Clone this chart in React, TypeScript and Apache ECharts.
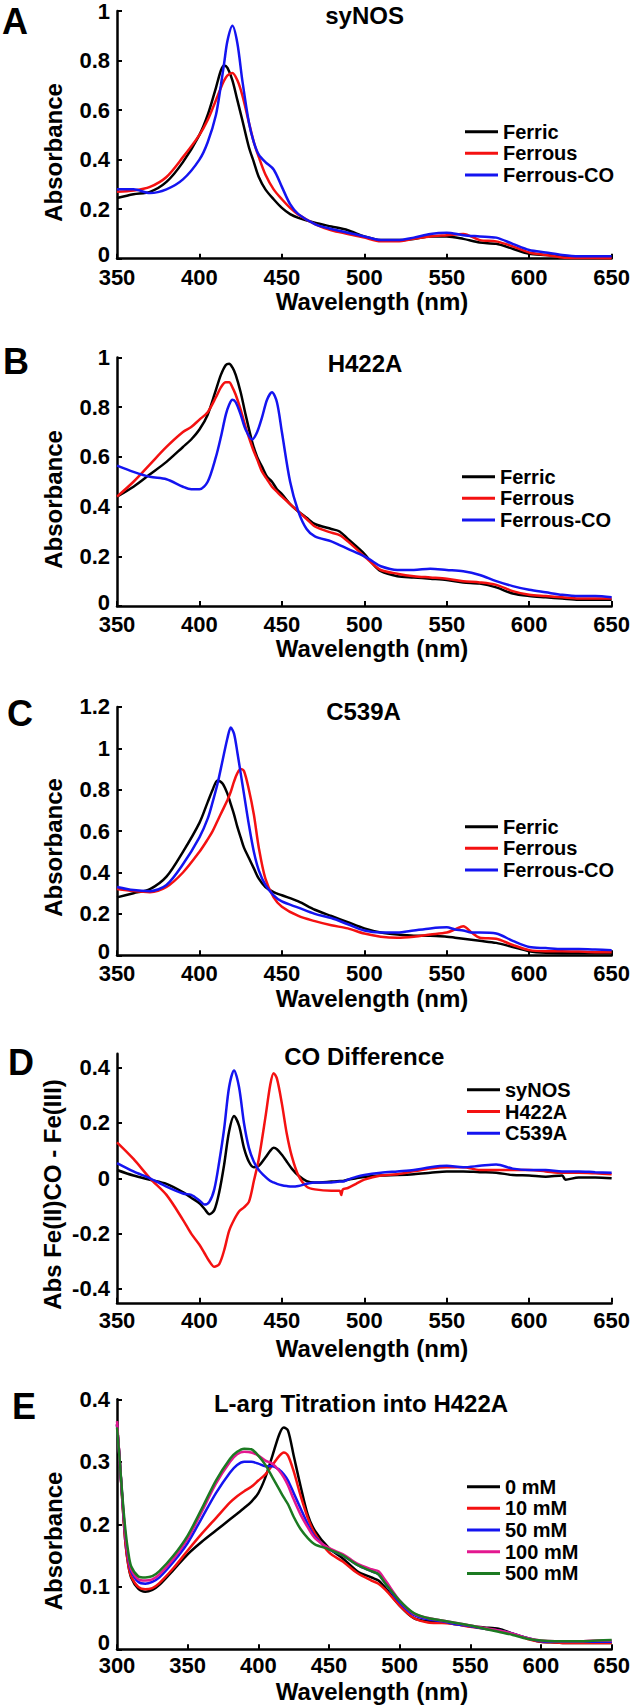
import React, { useEffect, useRef } from "react";
import * as echarts from "echarts";

const FONT = '"Liberation Sans", Arial, Helvetica, sans-serif';

// ---------- Panel A: syNOS ----------
const wlA = [350, 360, 370, 380, 390, 400, 405, 410, 413, 415, 417, 420, 423, 426, 430, 433, 436, 440, 445, 450, 455, 460, 470, 480, 490, 500, 510, 520, 530, 540, 550, 560, 570, 580, 590, 600, 610, 620, 630, 650];
const ferricA = [0.245, 0.26, 0.27, 0.31, 0.39, 0.5, 0.58, 0.69, 0.76, 0.78, 0.77, 0.72, 0.64, 0.56, 0.45, 0.39, 0.33, 0.28, 0.24, 0.205, 0.18, 0.165, 0.145, 0.13, 0.115, 0.09, 0.075, 0.075, 0.08, 0.09, 0.09, 0.08, 0.065, 0.06, 0.04, 0.02, 0.015, 0.01, 0.006, 0.005];
const ferrousA = [0.27, 0.275, 0.29, 0.33, 0.41, 0.5, 0.56, 0.64, 0.69, 0.72, 0.74, 0.75, 0.72, 0.66, 0.55, 0.47, 0.41, 0.34, 0.28, 0.24, 0.205, 0.178, 0.14, 0.115, 0.1, 0.085, 0.07, 0.07, 0.08, 0.09, 0.095, 0.1, 0.075, 0.07, 0.05, 0.025, 0.015, 0.005, 0.003, 0.002];
const ferrousCOA = [0.28, 0.28, 0.265, 0.28, 0.32, 0.4, 0.47, 0.58, 0.7, 0.79, 0.88, 0.94, 0.87, 0.72, 0.55, 0.47, 0.42, 0.39, 0.36, 0.29, 0.22, 0.18, 0.14, 0.12, 0.105, 0.09, 0.075, 0.075, 0.085, 0.1, 0.105, 0.095, 0.09, 0.085, 0.06, 0.035, 0.025, 0.015, 0.01, 0.01];

// ---------- Panel B: H422A ----------
const wlB = [350, 360, 370, 380, 390, 395, 400, 405, 410, 413, 416, 418, 420, 422, 425, 428, 432, 435, 438, 441, 444, 447, 450, 455, 460, 465, 470, 480, 485, 490, 500, 505, 510, 520, 530, 540, 550, 560, 570, 580, 590, 600, 610, 620, 630, 640, 650];
const ferricB = [0.44, 0.48, 0.53, 0.58, 0.64, 0.67, 0.71, 0.77, 0.87, 0.93, 0.97, 0.975, 0.96, 0.93, 0.86, 0.77, 0.66, 0.6, 0.56, 0.52, 0.5, 0.47, 0.45, 0.41, 0.38, 0.355, 0.33, 0.31, 0.3, 0.27, 0.21, 0.17, 0.14, 0.12, 0.115, 0.11, 0.105, 0.095, 0.09, 0.075, 0.05, 0.04, 0.035, 0.03, 0.025, 0.025, 0.025];
const ferrousB = [0.44, 0.5, 0.57, 0.64, 0.7, 0.72, 0.75, 0.78, 0.84, 0.88, 0.9, 0.9, 0.88, 0.85, 0.79, 0.72, 0.64, 0.59, 0.54, 0.51, 0.48, 0.46, 0.44, 0.41, 0.38, 0.35, 0.32, 0.295, 0.285, 0.26, 0.2, 0.17, 0.145, 0.13, 0.12, 0.115, 0.11, 0.1, 0.095, 0.085, 0.06, 0.045, 0.04, 0.035, 0.03, 0.03, 0.03];
const ferrousCOB = [0.565, 0.54, 0.52, 0.51, 0.48, 0.47, 0.47, 0.5, 0.6, 0.68, 0.77, 0.81, 0.83, 0.82, 0.77, 0.71, 0.67, 0.7, 0.76, 0.83, 0.86, 0.82, 0.7, 0.5, 0.38, 0.31, 0.28, 0.26, 0.245, 0.23, 0.2, 0.18, 0.16, 0.145, 0.145, 0.15, 0.145, 0.14, 0.125, 0.1, 0.08, 0.065, 0.055, 0.045, 0.04, 0.04, 0.035];

// ---------- Panel C: C539A ----------
const wlC = [350, 360, 370, 380, 390, 400, 405, 408, 411, 414, 417, 419, 421, 423, 425, 427, 430, 433, 436, 440, 445, 450, 460, 470, 480, 490, 500, 510, 520, 530, 540, 550, 555, 560, 565, 570, 580, 590, 600, 610, 620, 630, 640, 650];
const ferricC = [0.28, 0.3, 0.32, 0.38, 0.5, 0.64, 0.74, 0.8, 0.845, 0.83, 0.78, 0.73, 0.68, 0.62, 0.57, 0.52, 0.47, 0.42, 0.37, 0.33, 0.305, 0.29, 0.26, 0.22, 0.19, 0.16, 0.13, 0.11, 0.1, 0.095, 0.095, 0.09, 0.085, 0.08, 0.075, 0.07, 0.06, 0.04, 0.02, 0.012, 0.01, 0.01, 0.01, 0.01];
const ferrousC = [0.32, 0.31, 0.305, 0.33, 0.4, 0.5, 0.56, 0.6, 0.65, 0.7, 0.75, 0.79, 0.84, 0.88, 0.9, 0.89, 0.8, 0.68, 0.52, 0.37, 0.28, 0.235, 0.19, 0.165, 0.145, 0.13, 0.105, 0.09, 0.085, 0.09, 0.1, 0.11, 0.125, 0.14, 0.11, 0.085, 0.08, 0.05, 0.025, 0.02, 0.02, 0.018, 0.015, 0.015];
const ferrousCOC = [0.33, 0.315, 0.31, 0.34, 0.44, 0.57, 0.66, 0.74, 0.83, 0.94, 1.05, 1.1, 1.07, 0.98, 0.88, 0.78, 0.63, 0.5, 0.41, 0.34, 0.29, 0.26, 0.23, 0.2, 0.18, 0.15, 0.12, 0.11, 0.11, 0.12, 0.13, 0.135, 0.125, 0.12, 0.11, 0.11, 0.105, 0.07, 0.04, 0.035, 0.03, 0.03, 0.028, 0.025];

// ---------- Panel D: CO difference ----------
const wlD = [350, 360, 370, 380, 390, 395, 400, 403, 406, 409, 412, 415, 418, 421, 424, 427, 430, 433, 436, 440, 443, 445, 447, 450, 453, 456, 460, 465, 470, 480, 485, 486, 487, 490, 495, 500, 510, 520, 530, 540, 550, 560, 570, 580, 590, 600, 610, 620, 622, 630, 640, 650];
const synosD = [0.03, 0.01, -0.005, -0.02, -0.05, -0.07, -0.09, -0.11, -0.13, -0.115, -0.05, 0.05, 0.17, 0.225, 0.19, 0.11, 0.06, 0.04, 0.045, 0.075, 0.1, 0.11, 0.105, 0.085, 0.06, 0.035, 0.01, -0.01, -0.015, -0.012, -0.01, -0.01, -0.01, -0.005, 0, 0.005, 0.01, 0.012, 0.015, 0.02, 0.025, 0.025, 0.022, 0.02, 0.012, 0.01, 0.006, 0.01, -0.005, 0.003, 0.003, 0];
const h422aD = [0.13, 0.07, 0, -0.06, -0.15, -0.2, -0.24, -0.27, -0.3, -0.32, -0.31, -0.26, -0.19, -0.15, -0.12, -0.105, -0.085, -0.01, 0.07, 0.22, 0.34, 0.38, 0.36, 0.27, 0.16, 0.08, 0.01, -0.03, -0.04, -0.045, -0.045, -0.06, -0.04, -0.035, -0.02, -0.005, 0.01, 0.015, 0.025, 0.035, 0.04, 0.04, 0.03, 0.03, 0.03, 0.03, 0.025, 0.02, 0.02, 0.02, 0.018, 0.015];
const c539aD = [0.055, 0.025, 0, -0.03, -0.055, -0.06, -0.08, -0.095, -0.085, -0.04, 0.06, 0.18, 0.33, 0.39, 0.33, 0.2, 0.11, 0.06, 0.03, 0.005, -0.01, -0.015, -0.02, -0.025, -0.028, -0.03, -0.028, -0.02, -0.015, -0.015, -0.012, -0.012, -0.012, -0.005, 0.005, 0.012, 0.02, 0.025, 0.03, 0.04, 0.045, 0.04, 0.045, 0.05, 0.035, 0.03, 0.03, 0.025, 0.025, 0.025, 0.022, 0.02];

// ---------- Panel E: L-arg titration ----------
const wlE = [300, 302, 304, 306, 308, 310, 315, 320, 325, 330, 340, 350, 360, 370, 380, 385, 390, 395, 400, 405, 410, 415, 418, 421, 425, 430, 435, 440, 450, 460, 470, 480, 485, 490, 500, 510, 520, 530, 540, 550, 560, 570, 580, 590, 600, 610, 620, 630, 640, 650];
const mM0 = [0.36, 0.3, 0.23, 0.17, 0.135, 0.115, 0.097, 0.092, 0.095, 0.103, 0.127, 0.152, 0.172, 0.19, 0.208, 0.217, 0.226, 0.236, 0.25, 0.275, 0.31, 0.345, 0.355, 0.35, 0.31, 0.26, 0.215, 0.19, 0.162, 0.145, 0.125, 0.115, 0.11, 0.098, 0.07, 0.05, 0.045, 0.044, 0.04, 0.037, 0.035, 0.033, 0.025, 0.018, 0.012, 0.011, 0.01, 0.01, 0.01, 0.01];
const mM10 = [0.36, 0.3, 0.23, 0.17, 0.135, 0.117, 0.1, 0.096, 0.098, 0.106, 0.13, 0.158, 0.185, 0.21, 0.235, 0.245, 0.253, 0.26, 0.27, 0.28, 0.295, 0.31, 0.315, 0.31, 0.285, 0.245, 0.21, 0.185, 0.155, 0.14, 0.122, 0.11, 0.105, 0.095, 0.07, 0.05, 0.043, 0.042, 0.04, 0.036, 0.033, 0.03, 0.025, 0.017, 0.012, 0.011, 0.01, 0.01, 0.01, 0.01];
const mM50 = [0.36, 0.3, 0.235, 0.18, 0.145, 0.125, 0.108, 0.105, 0.108, 0.115, 0.14, 0.17, 0.21, 0.25, 0.283, 0.295, 0.3, 0.3, 0.297, 0.293, 0.293, 0.287, 0.28, 0.27, 0.25, 0.225, 0.2, 0.18, 0.16, 0.15, 0.135, 0.125, 0.12, 0.105, 0.075, 0.055, 0.048, 0.045, 0.04, 0.037, 0.033, 0.03, 0.025, 0.018, 0.013, 0.012, 0.012, 0.012, 0.012, 0.012];
const mM100 = [0.365, 0.3, 0.235, 0.18, 0.148, 0.128, 0.112, 0.11, 0.112, 0.12, 0.145, 0.177, 0.22, 0.265, 0.3, 0.312, 0.316, 0.315, 0.31, 0.302, 0.297, 0.285, 0.275, 0.262, 0.24, 0.215, 0.195, 0.178, 0.162, 0.152, 0.137, 0.128, 0.125, 0.11, 0.078, 0.057, 0.05, 0.046, 0.042, 0.038, 0.034, 0.03, 0.025, 0.018, 0.014, 0.013, 0.013, 0.013, 0.014, 0.014];
const mM500 = [0.355, 0.3, 0.24, 0.19, 0.155, 0.133, 0.117, 0.115, 0.117, 0.125, 0.15, 0.182, 0.225, 0.27, 0.305, 0.316, 0.321, 0.32, 0.31, 0.295, 0.275, 0.255, 0.243, 0.232, 0.212, 0.192, 0.178, 0.168, 0.16, 0.15, 0.135, 0.125, 0.12, 0.105, 0.078, 0.058, 0.05, 0.046, 0.042, 0.038, 0.033, 0.028, 0.023, 0.017, 0.014, 0.013, 0.013, 0.013, 0.014, 0.015];

// tick labels / names
const panelTitles = ["syNOS", "H422A", "C539A", "CO Difference", "L-arg Titration into H422A"];
const panelLetters = ["A", "B", "C", "D", "E"];
const yNames = ["Absorbance", "Absorbance", "Absorbance", "Abs Fe(II)CO - Fe(III)", "Absorbance"];
const xName = "Wavelength (nm)";
const dTicks = [-0.4, -0.2, 0, 0.2, 0.4];

const BLACK = "#000000";
const RED = "#f41111";
const BLUE = "#1414f0";
const MAGENTA = "#e3178f";
const GREEN = "#1c7a22";

const zip = (xs: number[], ys: number[]) => xs.map((x, i) => [x, ys[i]]);

const panelSeries = [
  [
    { name: "Ferric", wl: wlA, v: ferricA, color: BLACK },
    { name: "Ferrous", wl: wlA, v: ferrousA, color: RED },
    { name: "Ferrous-CO", wl: wlA, v: ferrousCOA, color: BLUE },
  ],
  [
    { name: "Ferric", wl: wlB, v: ferricB, color: BLACK },
    { name: "Ferrous", wl: wlB, v: ferrousB, color: RED },
    { name: "Ferrous-CO", wl: wlB, v: ferrousCOB, color: BLUE },
  ],
  [
    { name: "Ferric", wl: wlC, v: ferricC, color: BLACK },
    { name: "Ferrous", wl: wlC, v: ferrousC, color: RED },
    { name: "Ferrous-CO", wl: wlC, v: ferrousCOC, color: BLUE },
  ],
  [
    { name: "syNOS", wl: wlD, v: synosD, color: BLACK },
    { name: "H422A", wl: wlD, v: h422aD, color: RED },
    { name: "C539A", wl: wlD, v: c539aD, color: BLUE },
  ],
  [
    { name: "0 mM", wl: wlE, v: mM0, color: BLACK },
    { name: "10 mM", wl: wlE, v: mM10, color: RED },
    { name: "50 mM", wl: wlE, v: mM50, color: BLUE },
    { name: "100 mM", wl: wlE, v: mM100, color: MAGENTA },
    { name: "500 mM", wl: wlE, v: mM500, color: GREEN },
  ],
];

// layout (pixels)
const layout = [
  { top: 11, h: 247.7, xMin: 350, yMin: 0, yMax: 1, yInt: 0.2, xMargin: 8, zeroLift: 8, titleX: 364.6, titleY: 15, xNameY: 301.7, yNameX: 53, yNameY: 152.5, legTop: 120.8, legLeft: 465, letX: 2, letY: 21 },
  { top: 357.5, h: 248.5, xMin: 350, yMin: 0, yMax: 1, yInt: 0.2, xMargin: 7, zeroLift: 8, titleX: 365, titleY: 363.3, xNameY: 648.3, yNameX: 53, yNameY: 499.5, legTop: 465.8, legLeft: 462, letX: 3, letY: 361 },
  { top: 706.9, h: 248.4, xMin: 350, yMin: 0, yMax: 1.2, yInt: 0.2, xMargin: 7, zeroLift: 8, titleX: 363.5, titleY: 711.7, xNameY: 998.3, yNameX: 53, yNameY: 847.5, legTop: 815.8, legLeft: 465, letX: 7, letY: 713 },
  { top: 1053.8, h: 249, xMin: 350, yMin: -0.45, yMax: 0.45, yInt: 0, xMargin: 7, zeroLift: 0, titleX: 364.3, titleY: 1056.7, xNameY: 1348.3, yNameX: 52, yNameY: 1194.5, legTop: 1079, legLeft: 467, letX: 8, letY: 1062 },
  { top: 1399.3, h: 250, xMin: 300, yMin: 0, yMax: 0.4, yInt: 0.1, xMargin: 5, zeroLift: 14, titleX: 361, titleY: 1403.3, xNameY: 1691, yNameX: 53, yNameY: 1541, legTop: 1475.8, legLeft: 467, letX: 12, letY: 1406 },
];

const GRID_LEFT = 117;
const GRID_WIDTH = 499;

function txt(text: string, x: number, y: number, size: number, align: string, rotation = 0) {
  return {
    type: "text",
    x,
    y,
    rotation,
    silent: true,
    style: {
      text,
      x: 0,
      y: 0,
      fill: "#000",
      fontSize: size,
      fontWeight: "bold",
      fontFamily: FONT,
      align,
      verticalAlign: "middle",
      textAlign: align,
      textVerticalAlign: "middle",
    },
  };
}

export default function App() {
  const ref = useRef<HTMLDivElement>(null);

  useEffect(() => {
    if (!ref.current) return;
    const chart = echarts.init(ref.current, null, { renderer: "svg" });

    const axisCommon = {
      axisLine: { show: true, onZero: false, lineStyle: { color: "#000", width: 2.5 } },
      axisTick: { show: true, inside: true, length: 5, lineStyle: { color: "#000", width: 2 } },
      splitLine: { show: false },
    };
    const labelCommon = { color: "#000", fontSize: 22, fontWeight: "bold", fontFamily: FONT };

    const grids = layout.map((l) => ({ left: GRID_LEFT, top: l.top, width: GRID_WIDTH, height: l.h, containLabel: false }));

    const xAxes = layout.map((l, i) => ({
      type: "value",
      gridIndex: i,
      min: l.xMin,
      max: 650,
      interval: 50,
      ...axisCommon,
      axisLabel: { ...labelCommon, margin: l.xMargin, showMinLabel: true, showMaxLabel: true, hideOverlap: false },
    }));

    // the "0" label at the corner is lifted slightly so it does not collide with the first x label
    const yFormatter = (v: number) => (v === 0 ? "{z|0}" : String(Math.round(v * 1000) / 1000));

    const yAxes = layout.map((l, i) => {
      if (i === 3) {
        return {
          type: "value",
          gridIndex: i,
          min: l.yMin,
          max: l.yMax,
          ...axisCommon,
          axisTick: { ...axisCommon.axisTick, customValues: dTicks },
          axisLabel: { ...labelCommon, margin: 7, customValues: dTicks },
        };
      }
      return {
        type: "value",
        gridIndex: i,
        min: l.yMin,
        max: l.yMax,
        interval: l.yInt,
        ...axisCommon,
        axisLabel: {
          ...labelCommon,
          margin: 7,
          showMinLabel: true,
          showMaxLabel: true,
          formatter: yFormatter,
          rich: { z: { ...labelCommon, padding: [0, 0, l.zeroLift, 0] } },
        },
      };
    });

    const series: any[] = [];
    panelSeries.forEach((ps, i) => {
      ps.forEach((s, j) => {
        series.push({
          type: "line",
          name: s.name,
          xAxisIndex: i,
          yAxisIndex: i,
          data: zip(s.wl, s.v),
          showSymbol: false,
          symbol: "none",
          smooth: 0.3,
          z: 2 + j,
          lineStyle: { color: s.color, width: 2.5 },
          itemStyle: { color: s.color },
        });
      });
    });

    const legends = layout.map((l, i) => ({
      orient: "vertical",
      left: l.legLeft,
      top: l.legTop,
      padding: 0,
      itemGap: 0,
      itemWidth: 33,
      itemHeight: 3,
      icon: "rect",
      selectedMode: false,
      data: panelSeries[i].map((s) => s.name),
      textStyle: { color: "#000", fontSize: 20, fontWeight: "bold", fontFamily: FONT, lineHeight: 21.7 },
    }));

    const graphics: any[] = [];
    layout.forEach((l, i) => {
      graphics.push(txt(panelTitles[i], l.titleX, l.titleY, 24, "center"));
      graphics.push(txt(panelLetters[i], l.letX, l.letY, 36, "left"));
      graphics.push(txt(xName, 372, l.xNameY, 24, "center"));
      graphics.push(txt(yNames[i], l.yNameX, l.yNameY, 24, "center", Math.PI / 2));
    });

    chart.setOption({
      animation: false,
      backgroundColor: "#ffffff",
      grid: grids,
      xAxis: xAxes,
      yAxis: yAxes,
      legend: legends,
      series,
      graphic: { elements: graphics },
    });

    return () => chart.dispose();
  }, []);

  return (
    <div
      ref={ref}
      style={{ position: "absolute", left: 0, top: 0, width: 633, height: 1705, background: "#fff" }}
    />
  );
}
